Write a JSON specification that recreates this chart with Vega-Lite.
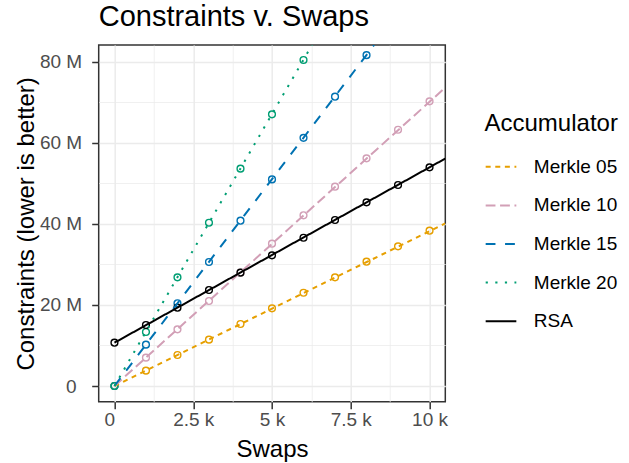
{
  "$schema": "https://vega.github.io/schema/vega-lite/v6.json",
  "width": 346.6,
  "height": 356.7,
  "autosize": {"type": "none"},
  "padding": {"left": 98.7, "top": 45, "right": 183.7, "bottom": 61.3},
  "title": {"text": "Constraints v. Swaps", "anchor": "start", "frame": "group", "fontSize": 29, "font": "Liberation Sans", "fontWeight": "normal", "color": "#000000", "baseline": "bottom", "offset": 12, "dy": 27.8},
  "datasets": {
    "points": [
      {"accumulator": "Merkle 05", "swaps": 0, "constraints": 0},
      {"accumulator": "Merkle 05", "swaps": 1000, "constraints": 3780000},
      {"accumulator": "Merkle 05", "swaps": 2000, "constraints": 7650000},
      {"accumulator": "Merkle 05", "swaps": 3000, "constraints": 11430000},
      {"accumulator": "Merkle 05", "swaps": 4000, "constraints": 15290000},
      {"accumulator": "Merkle 05", "swaps": 5000, "constraints": 19150000},
      {"accumulator": "Merkle 05", "swaps": 6000, "constraints": 23000000},
      {"accumulator": "Merkle 05", "swaps": 7000, "constraints": 26800000},
      {"accumulator": "Merkle 05", "swaps": 8000, "constraints": 30660000},
      {"accumulator": "Merkle 05", "swaps": 9000, "constraints": 34450000},
      {"accumulator": "Merkle 05", "swaps": 10000, "constraints": 38300000},
      {"accumulator": "Merkle 10", "swaps": 0, "constraints": 0},
      {"accumulator": "Merkle 10", "swaps": 1000, "constraints": 6990000},
      {"accumulator": "Merkle 10", "swaps": 2000, "constraints": 13970000},
      {"accumulator": "Merkle 10", "swaps": 3000, "constraints": 20960000},
      {"accumulator": "Merkle 10", "swaps": 4000, "constraints": 28000000},
      {"accumulator": "Merkle 10", "swaps": 5000, "constraints": 35100000},
      {"accumulator": "Merkle 10", "swaps": 6000, "constraints": 42100000},
      {"accumulator": "Merkle 10", "swaps": 7000, "constraints": 49150000},
      {"accumulator": "Merkle 10", "swaps": 8000, "constraints": 56150000},
      {"accumulator": "Merkle 10", "swaps": 9000, "constraints": 63200000},
      {"accumulator": "Merkle 10", "swaps": 10000, "constraints": 70200000},
      {"accumulator": "Merkle 15", "swaps": 0, "constraints": 0},
      {"accumulator": "Merkle 15", "swaps": 1000, "constraints": 10200000},
      {"accumulator": "Merkle 15", "swaps": 2000, "constraints": 20400000},
      {"accumulator": "Merkle 15", "swaps": 3000, "constraints": 30580000},
      {"accumulator": "Merkle 15", "swaps": 4000, "constraints": 40770000},
      {"accumulator": "Merkle 15", "swaps": 5000, "constraints": 50960000},
      {"accumulator": "Merkle 15", "swaps": 6000, "constraints": 61200000},
      {"accumulator": "Merkle 15", "swaps": 7000, "constraints": 71350000},
      {"accumulator": "Merkle 15", "swaps": 8000, "constraints": 81600000},
      {"accumulator": "Merkle 20", "swaps": 0, "constraints": 0},
      {"accumulator": "Merkle 20", "swaps": 1000, "constraints": 13320000},
      {"accumulator": "Merkle 20", "swaps": 2000, "constraints": 26800000},
      {"accumulator": "Merkle 20", "swaps": 3000, "constraints": 40270000},
      {"accumulator": "Merkle 20", "swaps": 4000, "constraints": 53600000},
      {"accumulator": "Merkle 20", "swaps": 5000, "constraints": 67000000},
      {"accumulator": "Merkle 20", "swaps": 6000, "constraints": 80400000},
      {"accumulator": "RSA", "swaps": 0, "constraints": 10680000},
      {"accumulator": "RSA", "swaps": 1000, "constraints": 15040000},
      {"accumulator": "RSA", "swaps": 2000, "constraints": 19310000},
      {"accumulator": "RSA", "swaps": 3000, "constraints": 23670000},
      {"accumulator": "RSA", "swaps": 4000, "constraints": 27950000},
      {"accumulator": "RSA", "swaps": 5000, "constraints": 32220000},
      {"accumulator": "RSA", "swaps": 6000, "constraints": 36570000},
      {"accumulator": "RSA", "swaps": 7000, "constraints": 40940000},
      {"accumulator": "RSA", "swaps": 8000, "constraints": 45300000},
      {"accumulator": "RSA", "swaps": 9000, "constraints": 49570000},
      {"accumulator": "RSA", "swaps": 10000, "constraints": 53930000}
    ],
    "fits": [
      {"accumulator": "Merkle 05", "swaps": 0, "constraints": 0},
      {"accumulator": "Merkle 05", "swaps": 10500, "constraints": 40100000},
      {"accumulator": "Merkle 10", "swaps": 0, "constraints": 0},
      {"accumulator": "Merkle 10", "swaps": 10500, "constraints": 73600000},
      {"accumulator": "Merkle 15", "swaps": 0, "constraints": 0},
      {"accumulator": "Merkle 15", "swaps": 8240, "constraints": 84100000},
      {"accumulator": "Merkle 20", "swaps": 0, "constraints": 0},
      {"accumulator": "Merkle 20", "swaps": 6270, "constraints": 84100000},
      {"accumulator": "RSA", "swaps": 0, "constraints": 10680000},
      {"accumulator": "RSA", "swaps": 10500, "constraints": 56100000}
    ]
  },
  "layer": [
    {
      "data": {"name": "points"},
      "mark": {"type": "point", "filled": false, "size": 46, "strokeWidth": 1.4, "clip": true, "opacity": 1},
      "encoding": {
        "x": {"field": "swaps", "type": "quantitative", "scale": {"domain": [-500, 10500], "nice": false, "zero": false},
              "axis": {"orient": "bottom", "values": [1250, 3750, 6250, 8750], "grid": true, "gridColor": "#EBEBEB", "gridWidth": 0.75, "labels": false, "ticks": false, "domain": false, "title": null}},
        "y": {"field": "constraints", "type": "quantitative", "scale": {"domain": [-3870000, 84100000], "nice": false, "zero": false},
              "axis": {"orient": "left", "values": [10000000, 30000000, 50000000, 70000000], "grid": true, "gridColor": "#EBEBEB", "gridWidth": 0.75, "labels": false, "ticks": false, "domain": false, "title": null}},
        "color": {"field": "accumulator", "type": "nominal", "title": "Accumulator",
                  "scale": {"domain": ["Merkle 05", "Merkle 10", "Merkle 15", "Merkle 20", "RSA"], "range": ["#E69F00", "#D29FB6", "#0072B2", "#009E73", "#000000"]}}
      }
    },
    {
      "data": {"name": "fits"},
      "mark": {"type": "line", "strokeWidth": 2, "clip": true, "strokeCap": "butt"},
      "encoding": {
        "x": {"field": "swaps", "type": "quantitative", "title": "Swaps",
              "axis": {"orient": "bottom", "values": [0, 2500, 5000, 7500, 10000], "labelExpr": "datum.value == 0 ? '0' : (datum.value / 1000) + ' k'",
                       "labelAlign": {"condition": {"test": "datum.value == 0", "value": "right"}, "value": "center"},
                       "grid": true, "gridColor": "#EBEBEB", "gridWidth": 1.5, "domain": false, "ticks": true, "tickSize": 7, "tickWidth": 1.5, "tickColor": "#333333",
                       "labelFontSize": 19, "labelColor": "#4D4D4D", "labelFont": "Liberation Sans", "labelPadding": 2, "labelFlush": false,
                       "titleFontSize": 24, "titleFont": "Liberation Sans", "titleFontWeight": "normal", "titleColor": "#000000", "titlePadding": 8}},
        "y": {"field": "constraints", "type": "quantitative", "title": "Constraints (lower is better)",
              "axis": {"orient": "left", "values": [0, 20000000, 40000000, 60000000, 80000000], "labelExpr": "datum.value == 0 ? '0' : (datum.value / 1000000) + ' M'",
                       "labelPadding": {"condition": {"test": "datum.value == 0", "value": 15.7}, "value": 10},
                       "grid": true, "gridColor": "#EBEBEB", "gridWidth": 1.5, "domain": false, "ticks": true, "tickSize": 7, "tickWidth": 1.5, "tickColor": "#333333",
                       "labelFontSize": 19, "labelColor": "#4D4D4D", "labelFont": "Liberation Sans", "labelFlush": false,
                       "titleFontSize": 24, "titleFont": "Liberation Sans", "titleFontWeight": "normal", "titleColor": "#000000", "titlePadding": 1}},
        "color": {"field": "accumulator", "type": "nominal", "title": "Accumulator",
                  "scale": {"domain": ["Merkle 05", "Merkle 10", "Merkle 15", "Merkle 20", "RSA"], "range": ["#E69F00", "#D29FB6", "#0072B2", "#009E73", "#000000"]}},
        "strokeDash": {"field": "accumulator", "type": "nominal", "title": "Accumulator",
                       "scale": {"domain": ["Merkle 05", "Merkle 10", "Merkle 15", "Merkle 20", "RSA"], "range": [[5, 4.6], [9.8, 4.6], [9.8, 9.6], [2.2, 7.4], [1, 0]]}}
      }
    }
  ],
  "resolve": {"axis": {"x": "independent", "y": "independent"}},
  "config": {
    "view": {"stroke": "#333333", "strokeWidth": 1.5},
    "font": "Liberation Sans",
    "background": "#ffffff",
    "legend": {"orient": "none", "legendX": 385.8, "legendY": 66.7, "symbolType": "stroke", "symbolSize": 940, "symbolStrokeWidth": 2,
               "labelFontSize": 19, "labelFont": "Liberation Sans", "labelColor": "#000000", "labelOffset": 16.3,
               "titleFontSize": 24, "titleFont": "Liberation Sans", "titleFontWeight": "normal", "titleColor": "#000000", "titlePadding": 14.6,
               "rowPadding": 11.6, "padding": 0}
  }
}
